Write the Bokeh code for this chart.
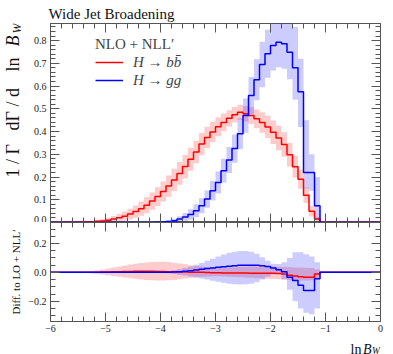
import numpy as np
from bokeh.plotting import figure
from bokeh.layouts import column, row
from bokeh.models import (Range1d, LinearAxis, FixedTicker, Label, Legend,
                          LegendItem, CustomJSTickFormatter)
from bokeh.embed import file_html
from bokeh.resources import INLINE

# ---------------- data ----------------
x_ticks = [-6, -5, -4, -3, -2, -1, 0]
main_y_ticks = [0.0, 0.1, 0.2, 0.3, 0.4, 0.5, 0.6, 0.7, 0.8]
ratio_y_ticks = [-0.2, 0.0, 0.2]
bin_width = 0.1
x_min, x_max = -6.0, 0.0

# H -> bb (red), bins starting at ln B_W = -5.5
red_first_edge = -5.5
red_vals = [0.001, 0.002, 0.003, 0.005, 0.007, 0.010, 0.015, 0.021, 0.028, 0.037,
            0.048, 0.061, 0.076, 0.094, 0.114, 0.136, 0.160, 0.187, 0.216, 0.246,
            0.278, 0.310, 0.345, 0.374, 0.398, 0.421, 0.440, 0.458, 0.474, 0.485,
            0.478, 0.470, 0.456, 0.440, 0.420, 0.397, 0.372, 0.343, 0.298, 0.245,
            0.190, 0.120, 0.050, 0.015]
red_band = [0.002, 0.003, 0.005, 0.007, 0.009, 0.011, 0.014, 0.017, 0.020, 0.024,
            0.027, 0.031, 0.035, 0.038, 0.041, 0.044, 0.047, 0.049, 0.050, 0.051,
            0.051, 0.050, 0.049, 0.047, 0.045, 0.042, 0.039, 0.036, 0.034, 0.033,
            0.034, 0.037, 0.041, 0.045, 0.049, 0.052, 0.054, 0.054, 0.052, 0.048,
            0.042, 0.034, 0.024, 0.010]
red_diff = [0.0, 0.0, 0.001, 0.001, 0.002, 0.003, 0.004, 0.005, 0.006, 0.006,
            0.007, 0.007, 0.007, 0.007, 0.006, 0.006, 0.005, 0.004, 0.003, 0.002,
            0.001, 0.0, 0.0, -0.001, -0.002, -0.003, -0.004, -0.004, -0.005, -0.005,
            -0.005, -0.006, -0.006, -0.006, -0.006, -0.007, -0.008, -0.012, -0.020, -0.025,
            -0.030, -0.034, -0.034, -0.012]
red_diff_hi = [0.003, 0.006, 0.010, 0.015, 0.020, 0.027, 0.034, 0.041, 0.048, 0.054,
               0.060, 0.065, 0.069, 0.072, 0.073, 0.073, 0.071, 0.067, 0.062, 0.056,
               0.050, 0.044, 0.040, 0.036, 0.034, 0.033, 0.034, 0.035, 0.036, 0.038,
               0.039, 0.040, 0.041, 0.041, 0.041, 0.040, 0.039, 0.037, 0.035, 0.034,
               0.033, 0.032, 0.030, 0.020]
red_diff_lo = [-0.003, -0.005, -0.008, -0.012, -0.016, -0.021, -0.026, -0.031, -0.036, -0.041,
               -0.045, -0.049, -0.052, -0.055, -0.057, -0.057, -0.055, -0.052, -0.048, -0.043,
               -0.038, -0.034, -0.030, -0.028, -0.027, -0.027, -0.028, -0.030, -0.032, -0.034,
               -0.036, -0.038, -0.040, -0.042, -0.044, -0.046, -0.048, -0.050, -0.052, -0.054,
               -0.056, -0.057, -0.055, -0.040]

# H -> gg (blue), bins starting at ln B_W = -4.1
blue_first_edge = -4.1
blue_vals = [0.001, 0.002, 0.004, 0.008, 0.015, 0.024, 0.035, 0.052, 0.074, 0.103,
             0.140, 0.176, 0.228, 0.275, 0.325, 0.390, 0.470, 0.558, 0.628, 0.695,
             0.742, 0.778, 0.793, 0.786, 0.749, 0.680, 0.575, 0.220, 0.220, 0.074]
blue_lo = [0.0, 0.0, 0.0, 0.0, 0.002, 0.006, 0.012, 0.024, 0.041, 0.065,
           0.097, 0.128, 0.176, 0.218, 0.263, 0.322, 0.395, 0.476, 0.538, 0.595,
           0.637, 0.668, 0.683, 0.676, 0.630, 0.540, 0.420, 0.150, 0.140, 0.010]
blue_hi = [0.003, 0.006, 0.010, 0.017, 0.028, 0.042, 0.058, 0.080, 0.107, 0.141,
           0.183, 0.224, 0.280, 0.332, 0.387, 0.458, 0.545, 0.640, 0.718, 0.795,
           0.847, 0.888, 0.903, 0.896, 0.880, 0.860, 0.720, 0.450, 0.300, 0.200]
blue_diff = [0.0, 0.0, 0.001, 0.002, 0.004, 0.007, 0.011, 0.016, 0.021, 0.026,
             0.031, 0.035, 0.039, 0.043, 0.046, 0.049, 0.050, 0.050, 0.049, 0.046,
             0.040, 0.030, 0.018, 0.005, -0.034, -0.057, -0.090, -0.126, -0.126, -0.045]
blue_diff_lo = [-0.002, -0.004, -0.007, -0.011, -0.016, -0.022, -0.028, -0.035, -0.042, -0.050,
                -0.058, -0.065, -0.072, -0.078, -0.082, -0.084, -0.083, -0.078, -0.068, -0.050,
                -0.030, -0.015, -0.012, -0.050, -0.120, -0.200, -0.250, -0.280, -0.290, -0.250]
blue_diff_hi = [0.002, 0.005, 0.009, 0.015, 0.022, 0.030, 0.040, 0.052, 0.065, 0.080,
                0.095, 0.110, 0.123, 0.135, 0.143, 0.148, 0.148, 0.142, 0.128, 0.105,
                0.080, 0.060, 0.058, 0.070, 0.100, 0.140, 0.140, 0.125, 0.110, 0.070]

# ---------------- helpers ----------------
FONT = "Liberation Serif"
AX = "#555555"
RED = "#ff0000"
BLUE = "#0000ff"
n_bins = int(round((x_max - x_min) / bin_width))
edges = x_min + bin_width * np.arange(n_bins + 1)


def full(vals, first_edge):
    out = np.zeros(n_bins)
    i0 = int(round((first_edge - x_min) / bin_width))
    out[i0:i0 + len(vals)] = vals
    return np.append(out, out[-1])


def make_axis(ticks, minor, labels, fmt_digits):
    ax = LinearAxis(ticker=FixedTicker(ticks=ticks, minor_ticks=minor))
    ax.axis_line_color = None
    ax.major_tick_in = 9
    ax.major_tick_out = 0
    ax.minor_tick_in = 5
    ax.minor_tick_out = 0
    ax.major_tick_line_color = AX
    ax.minor_tick_line_color = AX
    if labels:
        ax.formatter = CustomJSTickFormatter(
            code="return tick.toFixed(%d).replace('-', '\\u2212')" % fmt_digits)
        ax.major_label_text_font = FONT
        ax.major_label_text_font_size = "10px"
        ax.major_label_text_color = "#222222"
        ax.major_label_standoff = 4
    else:
        ax.major_label_text_font_size = "0px"
        ax.major_label_text_color = None
        ax.major_label_standoff = 0
    return ax


def text_strip(width, height):
    """A figure whose frame is its whole canvas, used only to hold text."""
    f = figure(width=width, height=height, x_range=Range1d(0, 1), y_range=Range1d(0, 1),
               output_backend="svg", toolbar_location=None,
               x_axis_location=None, y_axis_location=None, min_border=0)
    f.outline_line_color = None
    f.grid.grid_line_color = None
    f.background_fill_color = "white"
    f.border_fill_color = "white"
    return f


x_minor = list(np.round(np.arange(-6.0, 0.001, 0.2), 2))
main_minor = list(np.round(np.arange(0.0, 0.875, 0.02), 2))
ratio_minor = list(np.round(np.arange(-0.3, 0.301, 0.05), 2))

# ---------------- main panel ----------------
p = figure(width=365, height=222, x_range=Range1d(x_min, x_max), y_range=Range1d(0.0, 0.875),
           output_backend="svg", toolbar_location=None,
           x_axis_location=None, y_axis_location=None,
           min_border_left=22, min_border_right=13, min_border_top=23, min_border_bottom=0)
p.outline_line_color = AX
p.background_fill_color = "white"
p.border_fill_color = "white"
p.grid.grid_line_color = None

p.title.text = "Wide Jet Broadening"
p.title.align = "left"
p.title.offset = -2
p.title.standoff = 4
p.title.text_font = FONT
p.title.text_font_size = "15px"
p.title.text_font_style = "normal"
p.title.text_color = "#111111"

p.varea_step(x=edges, y1=full(np.array(red_vals) - np.array(red_band), red_first_edge),
             y2=full(np.array(red_vals) + np.array(red_band), red_first_edge),
             step_mode="after", fill_color=RED, fill_alpha=0.2)
p.varea_step(x=edges, y1=full(blue_lo, blue_first_edge), y2=full(blue_hi, blue_first_edge),
             step_mode="after", fill_color=BLUE, fill_alpha=0.2)
red_line = p.step(edges, full(red_vals, red_first_edge), mode="after", line_color=RED, line_width=1.5)
blue_line = p.step(edges, full(blue_vals, blue_first_edge), mode="after", line_color=BLUE, line_width=1.5)

p.add_layout(make_axis(main_y_ticks, main_minor, True, 1), "left")
p.add_layout(make_axis(main_y_ticks, main_minor, False, 1), "right")
p.add_layout(make_axis(x_ticks, x_minor, False, 0), "above")
p.add_layout(make_axis(x_ticks, x_minor, False, 0), "below")

legend = Legend(items=[LegendItem(label="H \u2192 bb\u0304", renderers=[red_line]),
                       LegendItem(label="H \u2192 gg", renderers=[blue_line])],
                title="NLO + NLL\u2032", location=(45, 133))
legend.label_text_font = FONT
legend.label_text_font_size = "15px"
legend.label_text_font_style = "italic"
legend.title_text_font = FONT
legend.title_text_font_size = "15px"
legend.title_text_font_style = "normal"
legend.glyph_width = 28
legend.glyph_height = 18
legend.label_height = 18
legend.label_standoff = 10
legend.spacing = 0
legend.padding = 0
legend.margin = 0
legend.title_standoff = 0
legend.border_line_color = None
legend.background_fill_alpha = 0
p.add_layout(legend)

# strip holding the rotated y label 1/Γ dΓ / d ln B_W
ystrip = text_strip(28, 222)
ylab = dict(x_units="canvas", y_units="canvas", angle=np.pi / 2, text_baseline="middle",
            text_align="left", text_font=FONT, text_color="#111111")
for txt, yy, size, style, xx in [("1 / \u0393", 177, "18px", "normal", 12),
                                 ("d\u0393 / d", 130, "18px", "normal", 12),
                                 ("ln", 71, "18px", "normal", 12),
                                 ("B", 46, "18px", "italic", 12),
                                 ("W", 33, "12px", "italic", 16)]:
    ystrip.add_layout(Label(x=xx, y=yy, text=txt, text_font_size=size,
                            text_font_style=style, **ylab))

# ---------------- ratio panel ----------------
r = figure(width=393, height=114, x_range=p.x_range, y_range=Range1d(-0.34, 0.345),
           output_backend="svg", toolbar_location=None,
           x_axis_location=None, y_axis_location=None,
           min_border_left=50, min_border_right=13, min_border_top=0, min_border_bottom=15)
r.outline_line_color = AX
r.background_fill_color = "white"
r.border_fill_color = "white"
r.grid.grid_line_color = None

r.varea_step(x=edges, y1=full(red_diff_lo, red_first_edge), y2=full(red_diff_hi, red_first_edge),
             step_mode="after", fill_color=RED, fill_alpha=0.2)
r.varea_step(x=edges, y1=full(blue_diff_lo, blue_first_edge), y2=full(blue_diff_hi, blue_first_edge),
             step_mode="after", fill_color=BLUE, fill_alpha=0.2)
r.step(edges, full(red_diff, red_first_edge), mode="after", line_color=RED, line_width=1.5)
r.step(edges, full(blue_diff, blue_first_edge), mode="after", line_color=BLUE, line_width=1.5)

ry = make_axis(ratio_y_ticks, ratio_minor, True, 1)
ry.axis_label = "Diff. to LO + NLL\u2032"
ry.axis_label_text_font = FONT
ry.axis_label_text_font_size = "11px"
ry.axis_label_text_font_style = "normal"
ry.axis_label_text_color = "#111111"
ry.axis_label_standoff = 3
r.add_layout(ry, "left")
r.add_layout(make_axis(ratio_y_ticks, ratio_minor, False, 1), "right")
r.add_layout(make_axis(x_ticks, x_minor, False, 0), "above")
rx = make_axis(x_ticks, x_minor, True, 0)
rx.major_label_standoff = 3
r.add_layout(rx, "below")

# strip holding the x label ln B_W
xstrip = text_strip(393, 18)
xl = dict(x_units="canvas", y_units="canvas", text_baseline="alphabetic", text_align="left",
          text_font=FONT, text_color="#111111")
xstrip.add_layout(Label(x=350, y=12.5, text="ln", text_font_size="14px", **xl))
xstrip.add_layout(Label(x=362.5, y=12.5, text="B", text_font_size="14px", text_font_style="italic", **xl))
xstrip.add_layout(Label(x=371.5, y=14.5, text="W", text_font_size="9.5px", text_font_style="italic", **xl))

layout = column(row(ystrip, p, spacing=0), r, xstrip, spacing=0)
open("out.html", "w").write(file_html(layout, INLINE))
